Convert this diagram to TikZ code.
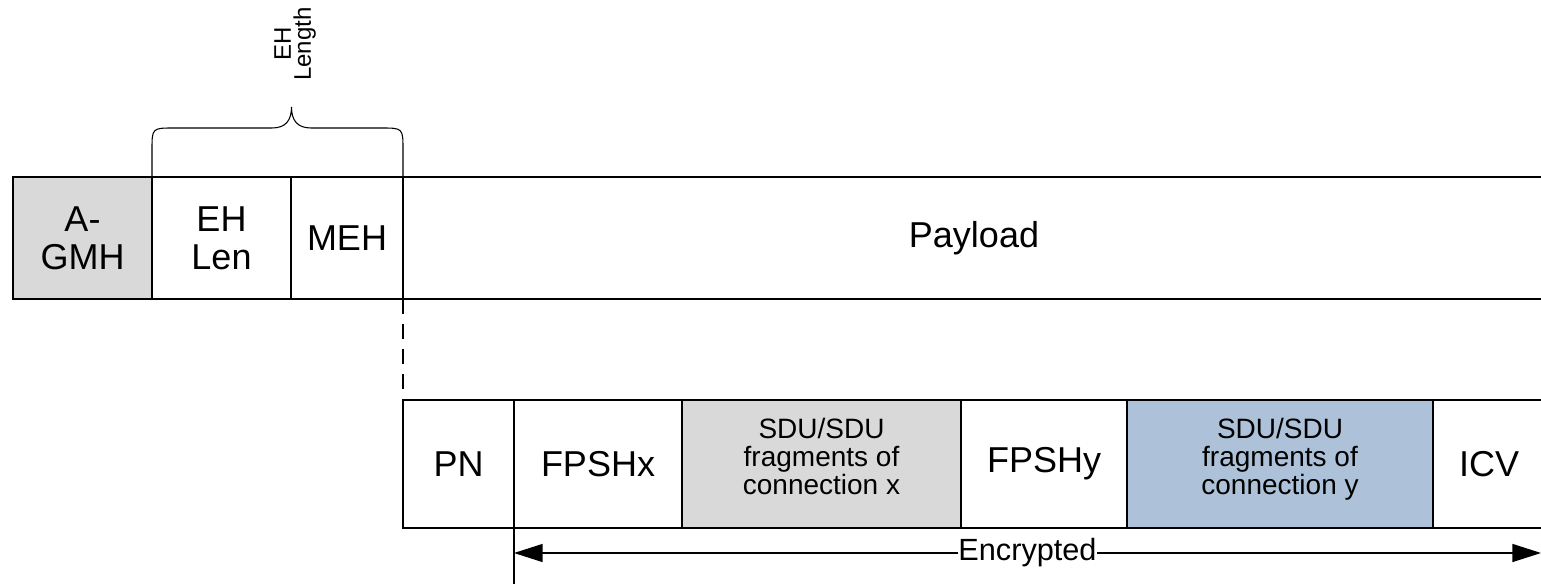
\documentclass[tikz,border=0pt]{standalone}
\usepackage{fontspec}
\setmainfont{Liberation Sans}
\usetikzlibrary{arrows.meta}
\definecolor{gfill}{RGB}{217,217,217}
\definecolor{bfill}{RGB}{173,193,217}
\newcommand{\lowpad}{\rule[-11pt]{0pt}{11pt}}
\begin{document}
\begin{tikzpicture}[x=0.75pt,y=-0.75pt,
  box/.style={draw, line width=1.3pt, inner sep=0pt, outer sep=0pt, align=center,
    font=\fontsize{27pt}{28.5pt}\selectfont},
  sbox/.style={box, font=\fontsize{21pt}{21pt}\selectfont},
  toprow/.style={minimum height=91.5pt},
  botrow/.style={minimum height=96pt},
  cw/.style={minimum width=#1*0.75pt},
  thin line/.style={line width=1.1pt},
  bracestyle/.style={line width=0.8pt},
  dblarrow/.style={arrows={Triangle[length=21.5pt,width=13.5pt]-Triangle[length=21.5pt,width=13.5pt]}}]
\useasboundingbox (0,0) rectangle (1541,584);
\clip (0,0) rectangle (1541,584);
% top row
\node[box, toprow, cw=139, fill=gfill] (agmh) at (82.5,238) {A-\\GMH};
\node[box, toprow, cw=139] (ehlen) at (221.5,238) {EH\\Len};
\node[box, toprow, cw=112] (meh) at (347,238) {MEH};
\node[box, toprow, cw=1142] (payload) at (974,238) {Payload};
% bottom row
\node[box, botrow, cw=111] (pn) at (458.5,464) {PN};
\node[box, botrow, cw=168] (fpshx) at (598,464) {FPSHx};
\node[sbox, botrow, cw=279, fill=gfill] (sdux) at (821.5,464) {SDU/SDU\\fragments of\\connection x\lowpad};
\node[box, botrow, cw=166] (fpshy) at (1044,464) {FPSHy};
\node[sbox, botrow, cw=306, fill=bfill] (sduy) at (1280,464) {SDU/SDU\\fragments of\\connection y\lowpad};
\node[box, botrow, cw=112] (icv) at (1489,464) {ICV};
% dashed link
\draw[line width=1.5pt, dash pattern=on 11.25pt off 7.5pt] (meh.south east) -- (pn.north west);
% brace
\draw[bracestyle] (ehlen.north west) -- (152,150) .. controls (152,128) .. (174,128)
  -- (272,128) .. controls (286,128) and (291.5,120) .. (291.5,107)
  .. controls (291.5,120) and (297,128) .. (311,128)
  -- (381,128) .. controls (403,128) .. (403,150) -- (meh.north east);
\node[rotate=90, align=center, inner sep=0pt, font=\fontsize{18pt}{15pt}\selectfont] (ehl) at (295,44) {EH\\Length};
% encrypted
\coordinate (vb) at (514,590);
\draw[thin line] (fpshx.south west) -- (vb);
\coordinate (al) at (514,553);
\coordinate (ar) at (1541,553);
\draw[thin line, dblarrow] (al) -- node[fill=white, inner xsep=0pt, inner ysep=1pt, font=\fontsize{23pt}{23pt}\selectfont] (enc) {Encrypted} (ar);
\end{tikzpicture}
\end{document}
